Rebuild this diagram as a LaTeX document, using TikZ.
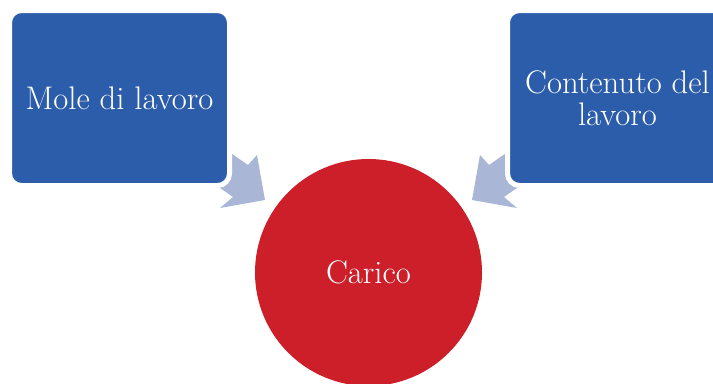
\documentclass[tikz,border=0pt]{standalone}
\definecolor{boxblue}{HTML}{2C5DAB}
\definecolor{circred}{HTML}{CD1F29}
\definecolor{arrowgray}{HTML}{AAB6D5}
\tikzset{
  bluebox/.style={rectangle, rounded corners=9pt, fill=boxblue, draw=white, line width=3.75pt,
    minimum width=165pt, minimum height=131.25pt, text=white, align=center,
    font=\fontsize{24.5}{24}\selectfont, inner sep=0pt},
  redcircle/.style={circle, fill=circred, minimum size=170.25pt, inner sep=0pt, text=white,
    font=\fontsize{24.5}{24}\selectfont},
  blockarrow/.style={fill=arrowgray}
}
\begin{document}
\begin{tikzpicture}[x=0.75pt,y=-0.75pt]
\useasboundingbox (0,0) rectangle (713,383);
% arrows
\fill[blockarrow] (215,142) -- (248,165) -- (257,155) -- (265,200) -- (220,208) -- (233,197) -- (200,174) -- cycle;
\fill[blockarrow] (522,142) -- (489,165) -- (480,155) -- (472,200) -- (517,208) -- (504,197) -- (537,174) -- cycle;
% nodes
\node[bluebox] (mole) at (119.5,98) {Mole di lavoro};
\node[bluebox] (cont) at (617.5,98) {Contenuto del\\lavoro};
\node[redcircle] (carico) at (368.5,272.5) {Carico};
\end{tikzpicture}
\end{document}
